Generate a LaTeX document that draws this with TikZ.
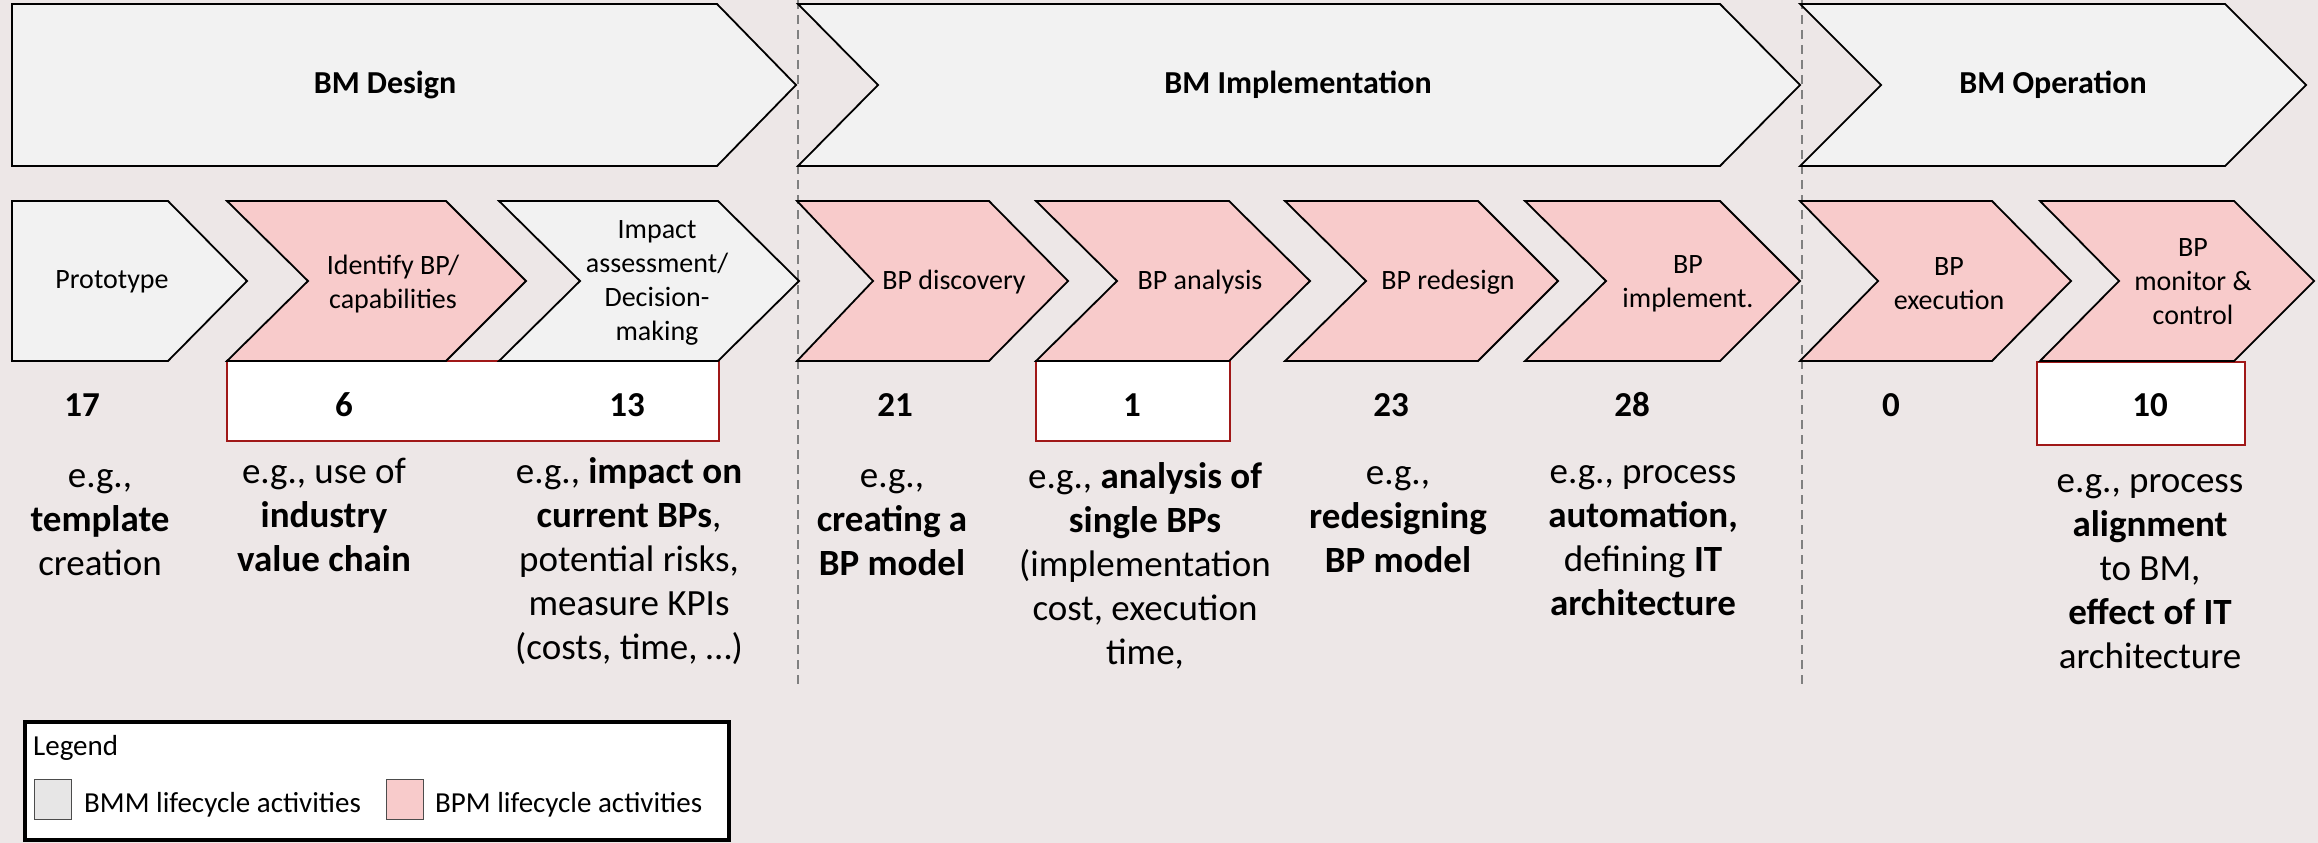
\documentclass[tikz,border=0pt]{standalone}
\usepackage{fontspec}
\setmainfont{Carlito}
\definecolor{bg}{RGB}{237,231,231}
\definecolor{bmm}{RGB}{242,242,242}
\definecolor{bpm}{RGB}{248,203,203}
\definecolor{swgray}{RGB}{231,230,230}
\definecolor{boxred}{RGB}{160,24,24}
\definecolor{guide}{RGB}{128,128,128}

% chevron: #1 style, #2 left x, #3 notch depth, #4 shoulder x, #5 tip depth, #6 top y, #7 bottom y
\newcommand\chevshape[7]{%
  \draw[#1] (#2,#6) -- (#4,#6) -- ({#4+#5},{(#6+#7)/2}) -- (#4,#7) -- (#2,#7)
    -- ({#2+#3},{(#6+#7)/2}) -- cycle;}

\begin{document}
\begin{tikzpicture}[x=1pt,y=-1pt,
  bmmshape/.style={fill=bmm,draw=black,line width=1.8pt,line join=miter},
  bpmshape/.style={fill=bpm,draw=black,line width=1.8pt,line join=miter},
  phase/.style={font=\fontsize{32}{38}\selectfont\bfseries,inner sep=0pt},
  activity/.style={font=\fontsize{28}{34}\selectfont,align=center,inner sep=0pt},
  count/.style={font=\fontsize{35}{40}\selectfont\bfseries,inner sep=0pt},
  % anchored at the baseline of the last line
  example/.style={font=\fontsize{37}{44}\selectfont,align=center,anchor=base,inner sep=0pt},
  countbox/.style={fill=white,draw=boxred,line width=2.8pt},
  guideline/.style={draw=guide,line width=1.6pt,dash pattern=on 9pt off 6pt},
  legendtext/.style={font=\fontsize{29}{34}\selectfont,anchor=base west,inner sep=0pt}]

\useasboundingbox (0,0) rectangle (2318,843);
\fill[bg] (0,0) rectangle (2318,843);

% phase separators
\coordinate (s1t) at (798,0);   \coordinate (s1b) at (798,686);
\coordinate (s2t) at (1802,0);  \coordinate (s2b) at (1802,686);
\draw[guideline] (s1t) -- (s1b);
\draw[guideline] (s2t) -- (s2b);

% highlighted counts
\draw[countbox] (227,361) rectangle (719,441);
\draw[countbox] (1036,361) rectangle (1230,441);
\draw[countbox] (2037,362) rectangle (2245,445);

% BM lifecycle phases
\chevshape{bmmshape}{12}{0}{717}{79}{4}{166}
\chevshape{bmmshape}{798}{80}{1720}{80}{4}{166}
\chevshape{bmmshape}{1800}{81}{2225}{81}{4}{166}
\node[phase] (design) at (385,85) {BM Design};
\node[phase] (impl) at (1298,85) {BM Implementation};
\node[phase] (oper) at (2053,85) {BM Operation};

% activities
\chevshape{bmmshape}{12}{0}{168}{79}{201}{361}
\chevshape{bpmshape}{227}{81}{446}{80}{201}{361}
\chevshape{bmmshape}{499}{81}{718}{81}{201}{361}
\chevshape{bpmshape}{797}{76}{989}{79}{201}{361}
\chevshape{bpmshape}{1036}{81}{1229}{81}{201}{361}
\chevshape{bpmshape}{1285}{81}{1478}{80}{201}{361}
\chevshape{bpmshape}{1525}{81}{1720}{80}{201}{361}
\chevshape{bpmshape}{1800}{78}{1992}{79}{201}{361}
\chevshape{bpmshape}{2040}{79}{2234}{80}{201}{361}

\node[activity] (a1) at (112,282) {Prototype};
\node[activity] (a2) at (393,284) {Identify BP/\\capabilities};
\node[activity] (a3) at (657,283) {Impact\\assessment/\\Decision-\\making};
\node[activity] (a4) at (954,282) {BP discovery};
\node[activity] (a5) at (1200,282) {BP analysis};
\node[activity] (a6) at (1448,282) {BP redesign};
\node[activity] (a7) at (1688,284) {BP\\implement.};
\node[activity] (a8) at (1949,284) {BP\\execution};
\node[activity] (a9) at (2193,282) {BP\\monitor \&\\control};

% counts
\node[count] (c1) at (82,405) {17};
\node[count] (c2) at (344,405) {6};
\node[count] (c3) at (627,405) {13};
\node[count] (c4) at (895,405) {21};
\node[count] (c5) at (1132,405) {1};
\node[count] (c6) at (1391,405) {23};
\node[count] (c7) at (1632,405) {28};
\node[count] (c8) at (1891,405) {0};
\node[count] (c9) at (2150,405) {10};

% examples
\node[example] (e1) at (100,575) {e.g.,\\\textbf{template}\\creation};
\node[example] (e2) at (324,571) {e.g., use of\\\textbf{industry}\\\textbf{value chain}};
\node[example] (e3) at (629,659) {e.g., \textbf{impact on}\\\textbf{current BPs},\\potential risks,\\measure KPIs\\(costs, time, …)};
\node[example] (e4) at (892,575) {e.g.,\\\textbf{creating a}\\\textbf{BP model}};
\node[example] (e5) at (1145,664) {e.g., \textbf{analysis of}\\\textbf{single BPs}\\(implementation\\cost, execution\\time,};
\node[example] (e6) at (1398,572) {e.g.,\\\textbf{redesigning}\\\textbf{BP model}};
\node[example] (e7) at (1643,615) {e.g., process\\\textbf{automation,}\\defining \textbf{IT}\\\textbf{architecture}};
\node[example] (e8) at (2150,668) {e.g., process\\\textbf{alignment}\\to BM,\\\textbf{effect of IT}\\architecture};

% legend
\draw[fill=white,draw=black,line width=4pt] (25,722) rectangle (729,840);
\node[legendtext] (lg) at (33,755) {Legend};
\draw[fill=swgray,draw=black!70,line width=1pt] (34,779) rectangle (71,819);
\node[legendtext] (lg1) at (84,812) {BMM lifecycle activities};
\draw[fill=bpm,draw=black!70,line width=1pt] (386,779) rectangle (423,819);
\node[legendtext] (lg2) at (435,812) {BPM lifecycle activities};
\end{tikzpicture}
\end{document}
